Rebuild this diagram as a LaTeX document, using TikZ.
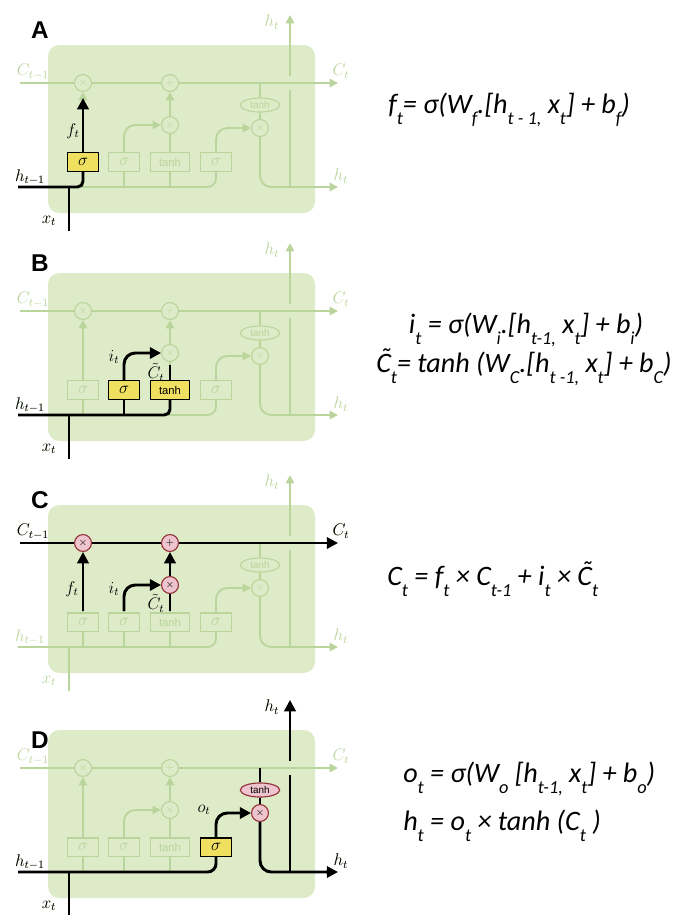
\documentclass[tikz,border=0pt]{standalone}
\usepackage{fontspec}
\setsansfont{Liberation Sans}
\newfontfamily\eqfont{Carlito}
\usetikzlibrary{arrows.meta,shapes.geometric}
\definecolor{cellbg}{RGB}{222,235,200}
\definecolor{fade}{RGB}{186,213,156}
\definecolor{gateyel}{RGB}{240,224,96}
\definecolor{oppink}{RGB}{238,196,206}
\definecolor{opred}{RGB}{150,50,60}
\tikzstyle{gate} = [rectangle, draw=black, fill=gateyel, line width=0.9pt, minimum width=22pt, minimum height=13pt, inner sep=1pt, font=\large]
\tikzstyle{tgate} = [gate, minimum width=28pt, font=\sffamily\footnotesize]
\tikzstyle{fgate} = [rectangle, draw=fade, fill=cellbg, line width=0.9pt, minimum width=22pt, minimum height=13pt, inner sep=1pt, text=fade, font=\large]
\tikzstyle{ftgate} = [fgate, minimum width=28pt, font=\sffamily\footnotesize]
\tikzstyle{op} = [circle, draw=opred, fill=oppink, line width=0.8pt, minimum size=12pt, inner sep=0pt, font=\scriptsize\bfseries]
\tikzstyle{fop} = [circle, draw=fade, fill=cellbg, line width=0.8pt, minimum size=12pt, inner sep=0pt, text=fade, font=\scriptsize\bfseries]
\tikzstyle{oth} = [ellipse, draw=opred, fill=oppink, line width=0.8pt, minimum width=28pt, minimum height=10pt, inner sep=0pt, font=\sffamily\scriptsize]
\tikzstyle{fth} = [ellipse, draw=fade, fill=cellbg, line width=0.8pt, minimum width=28pt, minimum height=10pt, inner sep=0pt, text=fade, font=\sffamily\scriptsize]
\tikzstyle{line} = [line width=2.1pt]
\tikzstyle{arrow} = [line width=2.1pt, -{Triangle[length=8pt,width=8pt]}]
\tikzstyle{fline} = [line width=1.3pt, draw=fade]
\tikzstyle{farrow} = [line width=1.3pt, draw=fade, -{Triangle[length=6pt,width=6pt]}]
\tikzstyle{lbl} = [font=\large, inner sep=1pt]
\tikzstyle{flbl} = [font=\large, inner sep=1pt, text=fade]
\tikzstyle{letter} = [font=\sffamily\bfseries\LARGE]
\tikzstyle{eq} = [font=\eqfont\itshape\fontsize{20}{24}\selectfont, inner sep=0pt]
\newcommand{\sbs}[1]{\raisebox{-0.42em}{\fontsize{13}{13}\selectfont #1}}
\newcommand{\tC}{\ooalign{C\cr\hidewidth\kern0.14em\raisebox{0.16em}{˜}\hidewidth\cr}}

\newcommand{\fadecell}[1]{%
\fill[cellbg, rounded corners=8pt] (0,0) rectangle (267,168);
\node (#1mf) [fop] at (35,38) {$\times$};
\node (#1ad) [fop] at (122,38) {$+$};
\node (#1mi) [fop] at (122,80) {$\times$};
\node (#1mo) [fop] at (212,83) {$\times$};
\node (#1th) [fth] at (212,60) {tanh};
\node (#1sf) [fgate] at (35,117) {$\sigma$};
\node (#1si) [fgate] at (76,117) {$\sigma$};
\node (#1tc) [ftgate] at (122,117) {tanh};
\node (#1so) [fgate] at (168,117) {$\sigma$};
\coordinate (#1cin) at (-28,38);
\coordinate (#1cout) at (290,38);
\coordinate (#1ctap) at (212,38);
\coordinate (#1hin) at (-30,142);
\coordinate (#1hout) at (290,142);
\coordinate (#1hbr) at (242,142);
\coordinate (#1gl) at (242,45);
\coordinate (#1gh) at (242,31);
\coordinate (#1hup) at (242,-30);
\coordinate (#1xin) at (21,186);
\draw[farrow] (#1cin) -- (#1mf) -- (#1ad) -- (#1cout);
\draw[fline, rounded corners=6pt] (#1hin) -- (#1so |- #1hin) -- (#1so);
\draw[fline] (#1xin) -- (#1xin |- #1hin);
\draw[fline] (#1sf |- #1hin) -- (#1sf);
\draw[fline] (#1si |- #1hin) -- (#1si);
\draw[fline] (#1tc |- #1hin) -- (#1tc);
\draw[farrow] (#1sf) -- (#1mf);
\draw[farrow, rounded corners=8pt] (#1si) -- (#1si |- #1mi) -- (#1mi);
\draw[fline] (#1tc) -- (#1mi);
\draw[farrow] (#1mi) -- (#1ad);
\draw[farrow, rounded corners=8pt] (#1so) -- (#1so |- #1mo) -- (#1mo);
\draw[fline] (#1ctap) -- (#1th);
\draw[fline] (#1th) -- (#1mo);
\draw[farrow, rounded corners=8pt] (#1mo) -- (#1mo |- #1hin) -- (#1hout);
\draw[fline] (#1hbr) -- (#1gl);
\draw[farrow] (#1gh) -- (#1hup);
\node (#1lc) [flbl] at (-15,27) {$C_{t-1}$};
\node (#1lco) [flbl] at (293,26) {$C_t$};
\node (#1lh) [flbl] at (-18,132) {$h_{t-1}$};
\node (#1lho) [flbl] at (293,131) {$h_t$};
\node (#1lhu) [flbl] at (224,-23) {$h_t$};
\node (#1lx) [flbl] at (1,176) {$x_t$};
}

\begin{document}
\begin{tikzpicture}[x=0.025cm, y=-0.025cm]
\useasboundingbox (0,0) rectangle (679,915);

\node (pa) [letter] at (40,30) {A};
\node (pb) [letter] at (40,263) {B};
\node (pc) [letter] at (40,500) {C};
\node (pd) [letter] at (40,740) {D};

\begin{scope}[shift={(48,45)}]
\fadecell{A}
\node (Afg) [gate] at (Asf) {$\sigma$};
\coordinate (Afe) at (35,53);
\draw[line, rounded corners=4pt] (Ahin) -- (Afg |- Ahin) -- (Afg);
\draw[line] (Axin) -- (Axin |- Ahin);
\draw[arrow] (Afg) -- (Afe);
\node (Aht) [lbl] at (-18,132) {$h_{t-1}$};
\node (Axt) [lbl] at (1,176) {$x_t$};
\node (Aft) [lbl] at (25,86) {$f_t$};
\end{scope}

\begin{scope}[shift={(48,273)}]
\fadecell{B}
\node (Big) [gate] at (Bsi) {$\sigma$};
\node (Bcg) [tgate] at (Btc) {tanh};
\coordinate (Bce) at (122,92);
\draw[line, rounded corners=4pt] (Bhin) -- (Bcg |- Bhin) -- (Bcg);
\draw[line] (Big |- Bhin) -- (Big);
\draw[line] (Bxin) -- (Bxin |- Bhin);
\draw[arrow, rounded corners=8pt] (Big) -- (Big |- Bmi) -- (Bmi);
\draw[line] (Bcg) -- (Bce);
\node (Bht) [lbl] at (-18,132) {$h_{t-1}$};
\node (Bxt) [lbl] at (1,176) {$x_t$};
\node (Bit) [lbl] at (66,84) {$i_t$};
\node (Bct) [lbl] at (108,99) {$\tilde{C}_t$};
\end{scope}

\begin{scope}[shift={(48,505)}]
\fadecell{C}
\node (Cfx) [op] at (Cmf) {$\times$};
\node (Cpl) [op] at (Cad) {$+$};
\node (Cix) [op] at (Cmi) {$\times$};
\coordinate (Cfs) at (35,106);
\coordinate (Cis) at (76,106);
\coordinate (Ccs) at (122,106);
\draw[arrow] (Ccin) -- (Cfx) -- (Cpl) -- (Ccout);
\draw[arrow] (Cfs) -- (Cfx);
\draw[arrow, rounded corners=8pt] (Cis) -- (Cis |- Cix) -- (Cix);
\draw[line] (Ccs) -- (Cix);
\draw[arrow] (Cix) -- (Cpl);
\node (Cct) [lbl] at (-15,27) {$C_{t-1}$};
\node (Ccto) [lbl] at (293,26) {$C_t$};
\node (Cft) [lbl] at (24,84) {$f_t$};
\node (Cit) [lbl] at (66,84) {$i_t$};
\node (Cctl) [lbl] at (108,98) {$\tilde{C}_t$};
\end{scope}

\begin{scope}[shift={(48,730)}]
\fadecell{D}
\node (Dog) [gate] at (Dso) {$\sigma$};
\node (Dtnh) [oth] at (Dth) {tanh};
\node (Dox) [op] at (Dmo) {$\times$};
\draw[line, rounded corners=6pt] (Dhin) -- (Dog |- Dhin) -- (Dog);
\draw[line] (Dxin) -- (Dxin |- Dhin);
\draw[arrow, rounded corners=8pt] (Dog) -- (Dog |- Dox) -- (Dox);
\draw[line] (Dctap) -- (Dtnh);
\draw[line] (Dtnh) -- (Dox);
\draw[arrow, rounded corners=8pt] (Dox) -- (Dox |- Dhin) -- (Dhout);
\draw[line] (Dhbr) -- (Dgl);
\draw[arrow] (Dgh) -- (Dhup);
\node (Dht) [lbl] at (-18,132) {$h_{t-1}$};
\node (Dxt) [lbl] at (1,176) {$x_t$};
\node (Dot) [lbl] at (156,80) {$o_t$};
\node (Dhto) [lbl] at (293,131) {$h_t$};
\node (Dhtu) [lbl] at (224,-23) {$h_t$};
\end{scope}

\node (eqf) [eq, anchor=base west] at (388,113) {f\sbs{t}= σ(W\sbs{f}.[h\sbs{t - 1,} x\sbs{t}] + b\sbs{f})};
\node (eqi) [eq, anchor=base] at (526,333) {i\sbs{t} = σ(W\sbs{i}.[h\sbs{t-1,} x\sbs{t}] + b\sbs{i})};
\node (eqc) [eq, anchor=base] at (524,372) {\tC\sbs{t}= tanh (W\sbs{C}.[h\sbs{t -1,} x\sbs{t}] + b\sbs{C})};
\node (equ) [eq, anchor=base west] at (387,585) {C\sbs{t} = f\sbs{t} × C\sbs{t-1} + i\sbs{t} × \tC\sbs{t}};
\node (eqo) [eq, anchor=base west] at (403,782) {o\sbs{t} = σ(W\sbs{o} [h\sbs{t-1,} x\sbs{t}] + b\sbs{o})};
\node (eqh) [eq, anchor=base west] at (403,830) {h\sbs{t} = o\sbs{t} × tanh (C\sbs{t} )};

\end{tikzpicture}
\end{document}
